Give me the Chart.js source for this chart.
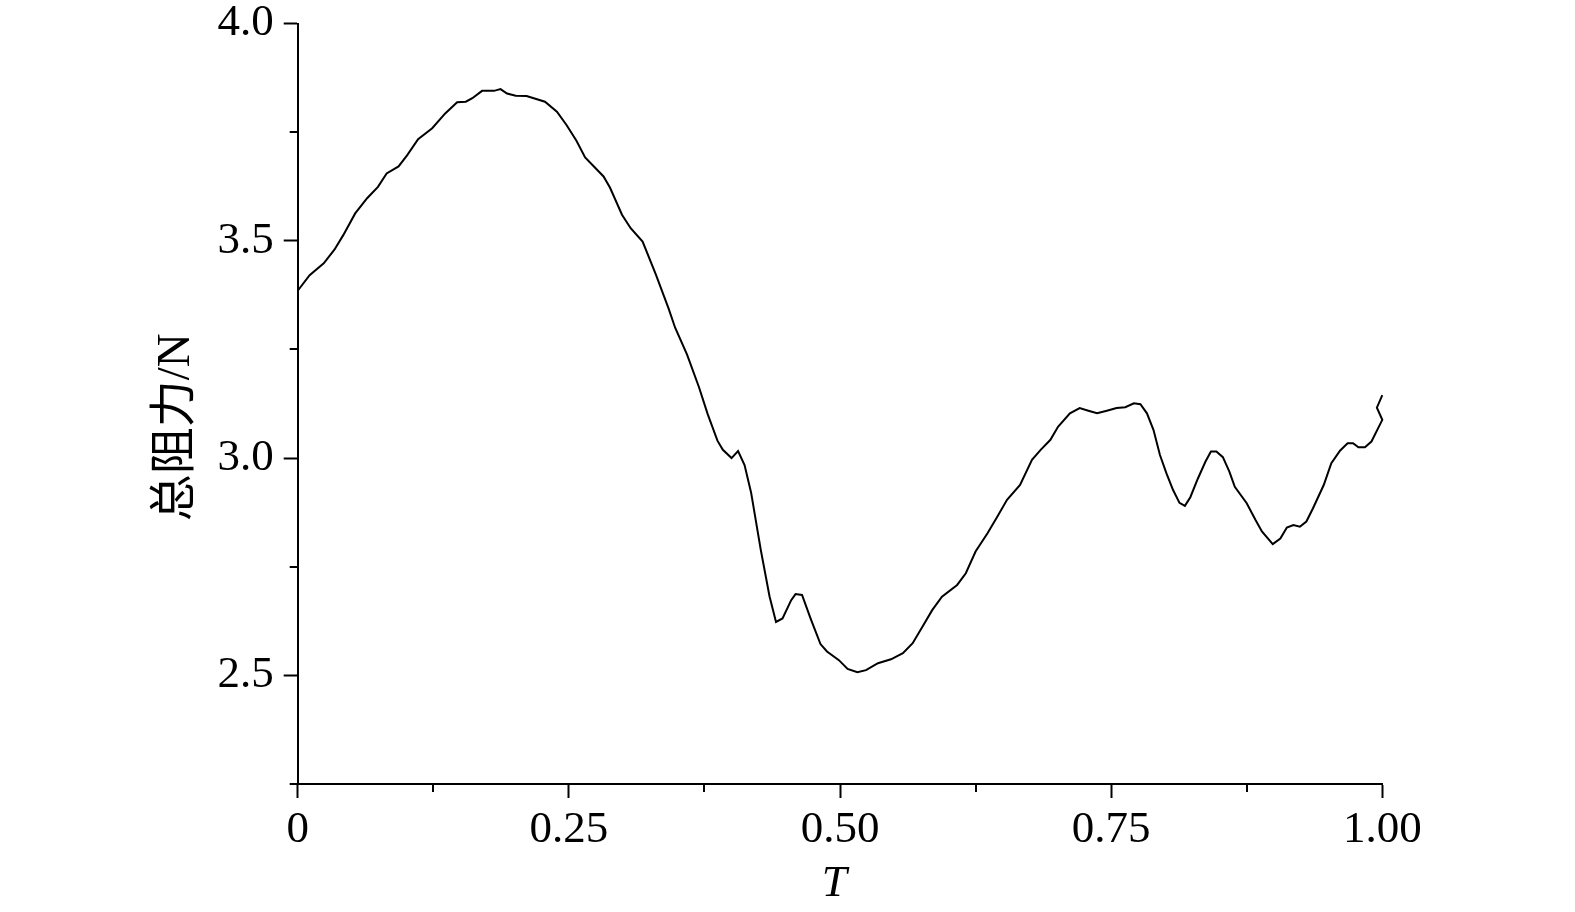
<!DOCTYPE html>
<html lang="zh">

<head>
    <meta charset="UTF-8">
    <title>总阻力</title>
    <script src="https://cdn.jsdelivr.net/npm/chart.js"></script>
    <style>
        html, body { margin: 0; padding: 0; background: #fff; }
        #wrap { width: 1575px; height: 912px; }
    </style>
</head>

<body>
    <div id="wrap"><canvas id="grafica" width="1575" height="912"></canvas></div>
    <script>
        // --- Datos ---
        const tValues = [
            0.000, 0.011, 0.024, 0.034, 0.042, 0.053, 0.064, 0.074, 0.082, 0.093,
            0.101, 0.111, 0.124, 0.136, 0.147, 0.155, 0.161, 0.170, 0.181, 0.187,
            0.193, 0.201, 0.211, 0.228, 0.239, 0.248, 0.257, 0.265, 0.282, 0.288,
            0.299, 0.307, 0.318, 0.330, 0.342, 0.348, 0.359, 0.370, 0.378, 0.387,
            0.392, 0.400, 0.406, 0.412, 0.418, 0.427, 0.435, 0.441, 0.447, 0.455,
            0.459, 0.465, 0.473, 0.482, 0.488, 0.499, 0.507, 0.516, 0.524, 0.535,
            0.547, 0.558, 0.567, 0.576, 0.585, 0.594, 0.608, 0.616, 0.625, 0.636,
            0.645, 0.654, 0.666, 0.677, 0.685, 0.694, 0.701, 0.712, 0.721, 0.729,
            0.737, 0.746, 0.755, 0.763, 0.771, 0.777, 0.783, 0.789, 0.795, 0.801,
            0.807, 0.813, 0.818, 0.823, 0.830, 0.837, 0.842, 0.847, 0.853, 0.859,
            0.864, 0.875, 0.883, 0.889, 0.899, 0.906, 0.912, 0.918, 0.924, 0.930,
            0.936, 0.946, 0.953, 0.961, 0.968, 0.973, 0.978, 0.984, 0.990, 1.000,
            0.995, 1.000
        ];
        const dragValues = [
            3.385, 3.421, 3.448, 3.480, 3.513, 3.563, 3.598, 3.624, 3.655, 3.671,
            3.697, 3.734, 3.759, 3.793, 3.819, 3.820, 3.828, 3.845, 3.845, 3.849,
            3.839, 3.834, 3.833, 3.820, 3.797, 3.766, 3.730, 3.692, 3.648, 3.622,
            3.560, 3.529, 3.498, 3.424, 3.344, 3.300, 3.238, 3.163, 3.101, 3.040,
            3.019, 3.000, 3.016, 2.984, 2.921, 2.788, 2.682, 2.623, 2.631, 2.673,
            2.687, 2.685, 2.630, 2.572, 2.555, 2.535, 2.515, 2.507, 2.512, 2.528,
            2.537, 2.551, 2.574, 2.612, 2.650, 2.681, 2.708, 2.735, 2.785, 2.827,
            2.865, 2.904, 2.938, 2.996, 3.019, 3.042, 3.072, 3.103, 3.115, 3.109,
            3.103, 3.109, 3.115, 3.117, 3.126, 3.124, 3.103, 3.065, 3.007, 2.965,
            2.927, 2.897, 2.890, 2.910, 2.953, 2.992, 3.015, 3.015, 3.002, 2.969,
            2.934, 2.896, 2.858, 2.831, 2.802, 2.815, 2.840, 2.846, 2.842, 2.854,
            2.884, 2.938, 2.988, 3.017, 3.034, 3.034, 3.025, 3.025, 3.038, 3.088,
            3.116, 3.145
        ];
        const xTicks = [0, 0.25, 0.5, 0.75, 1.0];
        const xTickLabels = ['0', '0.25', '0.50', '0.75', '1.00'];
        const xMinorTicks = [0.125, 0.375, 0.625, 0.875];
        const yTicks = [2.5, 3.0, 3.5, 4.0];
        const yMinorTicks = [2.25, 2.75, 3.25, 3.75];

        const fuenteNum = { family: '"Liberation Serif", "Times New Roman", serif', size: 45, lineHeight: 1 };

        // --- Ticks menores (cortos) ---
        const ticksMenores = {
            id: 'ticksMenores',
            afterDraw(chart) {
                const ctx = chart.ctx;
                const xs = chart.scales.x, ys = chart.scales.y;
                ctx.save();
                ctx.strokeStyle = '#000';
                ctx.lineWidth = 2;
                ctx.beginPath();
                xMinorTicks.forEach(v => {
                    const px = Math.round(xs.getPixelForValue(v));
                    ctx.moveTo(px, xs.top);
                    ctx.lineTo(px, xs.top + 8);
                });
                yMinorTicks.forEach(v => {
                    const py = Math.round(ys.getPixelForValue(v));
                    ctx.moveTo(ys.right, py);
                    ctx.lineTo(ys.right - 8, py);
                });
                ctx.stroke();
                ctx.restore();
            }
        };

        new Chart(document.getElementById('grafica').getContext('2d'), {
            type: 'scatter',
            data: {
                datasets: [{
                    data: tValues.map((t, i) => ({ x: t, y: dragValues[i] })),
                    showLine: true,
                    borderColor: '#000',
                    borderWidth: 2,
                    pointRadius: 0,
                    tension: 0,
                    clip: false
                }]
            },
            options: {
                responsive: false,
                animation: false,
                devicePixelRatio: 1,
                layout: { padding: { top: 23.5, right: 192.7, left: 0, bottom: 0 } },
                plugins: { legend: { display: false }, tooltip: { enabled: false } },
                scales: {
                    x: {
                        type: 'linear', min: 0, max: 1,
                        afterBuildTicks: s => { s.ticks = xTicks.map(v => ({ value: v })); },
                        afterFit: s => { s.height = 128; s.paddingLeft = 0; s.paddingRight = 0; },
                        ticks: {
                            color: '#000', font: fuenteNum, padding: 10, maxRotation: 0, autoSkip: false,
                            callback: (v) => xTickLabels[xTicks.indexOf(v)]
                        },
                        grid: { drawOnChartArea: false, drawTicks: true, tickLength: 14, tickColor: '#000', tickWidth: 2 },
                        border: { display: true, color: '#000', width: 2 },
                        title: {
                            display: true, text: 'T ', color: '#000',
                            font: { family: '"Liberation Serif", serif', size: 45, style: 'italic', lineHeight: 1 },
                            padding: { top: 0, bottom: 5 }
                        }
                    },
                    y: {
                        type: 'linear', min: 2.25, max: 4.0,
                        afterBuildTicks: s => { s.ticks = yTicks.map(v => ({ value: v })); },
                        afterFit: s => { s.width = 297.7; s.paddingTop = 0; s.paddingBottom = 0; },
                        ticks: {
                            color: '#000', font: fuenteNum, padding: 10, autoSkip: false,
                            callback: (v) => v.toFixed(1)
                        },
                        grid: { drawOnChartArea: false, drawTicks: true, tickLength: 14, tickColor: '#000', tickWidth: 2 },
                        border: { display: true, color: '#000', width: 2 },
                        title: {
                            display: true, text: '总阻力/N    ', color: '#000',
                            font: { family: '"Liberation Serif", "Noto Sans CJK SC", serif', size: 47, lineHeight: 1 },
                            padding: { top: 153, bottom: 0 }
                        }
                    }
                }
            },
            plugins: [ticksMenores]
        });
    </script>
</body>

</html>
